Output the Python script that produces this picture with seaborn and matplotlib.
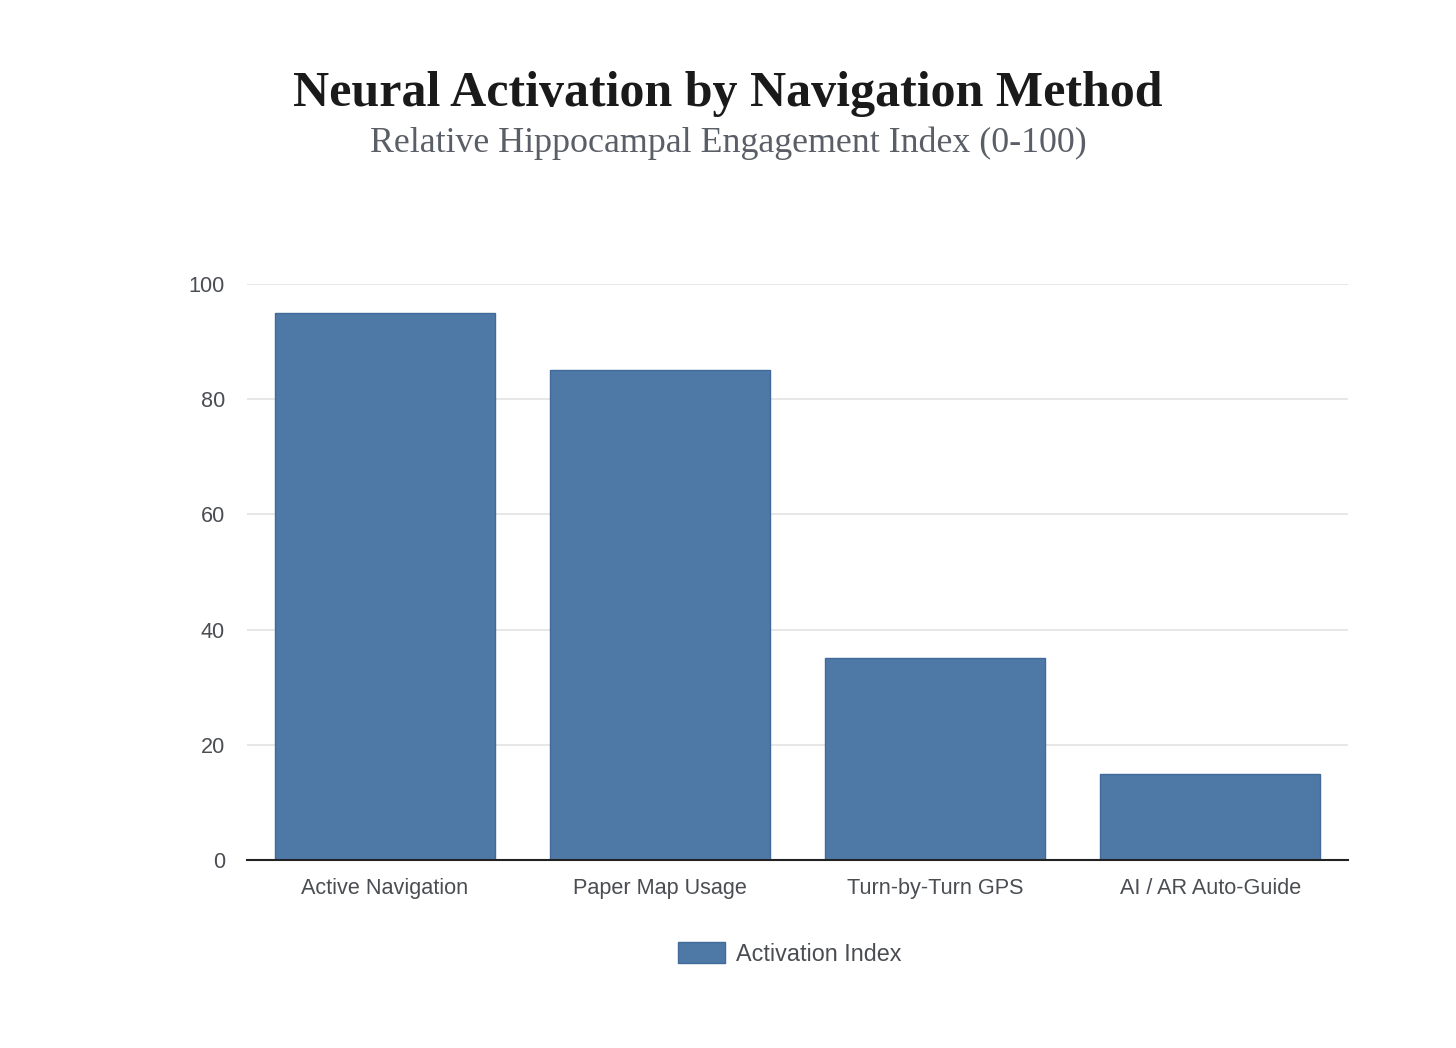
import matplotlib
matplotlib.use("Agg")
import matplotlib.pyplot as plt
import seaborn as sns
import pandas as pd
from matplotlib.patches import Patch

categories = ["Active Navigation", "Paper Map Usage", "Turn-by-Turn GPS", "AI / AR Auto-Guide"]
activation_index = [95, 85, 35, 15]
series_name = "Activation Index"
y_ticks = [0, 20, 40, 60, 80, 100]

title = "Neural Activation by Navigation Method"
subtitle = "Relative Hippocampal Engagement Index (0-100)"

df = pd.DataFrame({"Method": categories, "Value": activation_index, "Series": series_name})

sns.set_theme(style="white")
plt.rcParams['font.family'] = ['Liberation Sans', 'DejaVu Sans']

BAR = "#4e79a7"
EDGE = "#41699a"
TEXT = "#4a4d52"

fig = plt.figure(figsize=(14.56, 10.48), dpi=100)
ax = fig.add_axes([247/1456, 188/1048, 1101/1456, 576/1048])

sns.barplot(data=df, x="Method", y="Value", hue="Series", palette=[BAR],
            saturation=1, width=0.8, edgecolor=EDGE, linewidth=1, ax=ax,
            legend=False, zorder=3)

ax.set_ylim(0, 100)
ax.set_xlim(-0.5, 3.5)
ax.set_yticks(y_ticks)
ax.set_yticklabels([str(t) for t in y_ticks])
ax.yaxis.grid(True, color="#e3e3e3", linewidth=1.2, zorder=0)
ax.set_axisbelow(True)
for s in ["left", "right", "top"]:
    ax.spines[s].set_visible(False)
ax.spines["bottom"].set_color("#222222")
ax.spines["bottom"].set_linewidth(1.5)
ax.spines["bottom"].set_zorder(5)
ax.tick_params(axis="both", length=0, labelsize=15.6, labelcolor=TEXT)
ax.tick_params(axis="y", pad=16)
ax.tick_params(axis="x", pad=13)
ax.set_xlabel("")
ax.set_ylabel("")

fig.text(0.5, 1 - 94/1048, title, ha="center", va="center",
         fontsize=36, fontweight="bold", color="#1a1a1a",
         family=["Liberation Serif", "DejaVu Serif"])
fig.text(0.5, 1 - 143/1048, subtitle, ha="center", va="center",
         fontsize=25.8, color="#5a5e66", family=["Liberation Serif", "DejaVu Serif"])

handles = [Patch(facecolor=BAR, edgecolor=EDGE, label=series_name)]
fig.legend(handles=handles, loc="center", bbox_to_anchor=(790/1456, 1 - 954/1048),
           frameon=False, fontsize=16.8, labelcolor=TEXT,
           handlelength=2.0, handleheight=1.0, handletextpad=0.5)

fig.savefig("out.png", dpi=100, facecolor="white")
